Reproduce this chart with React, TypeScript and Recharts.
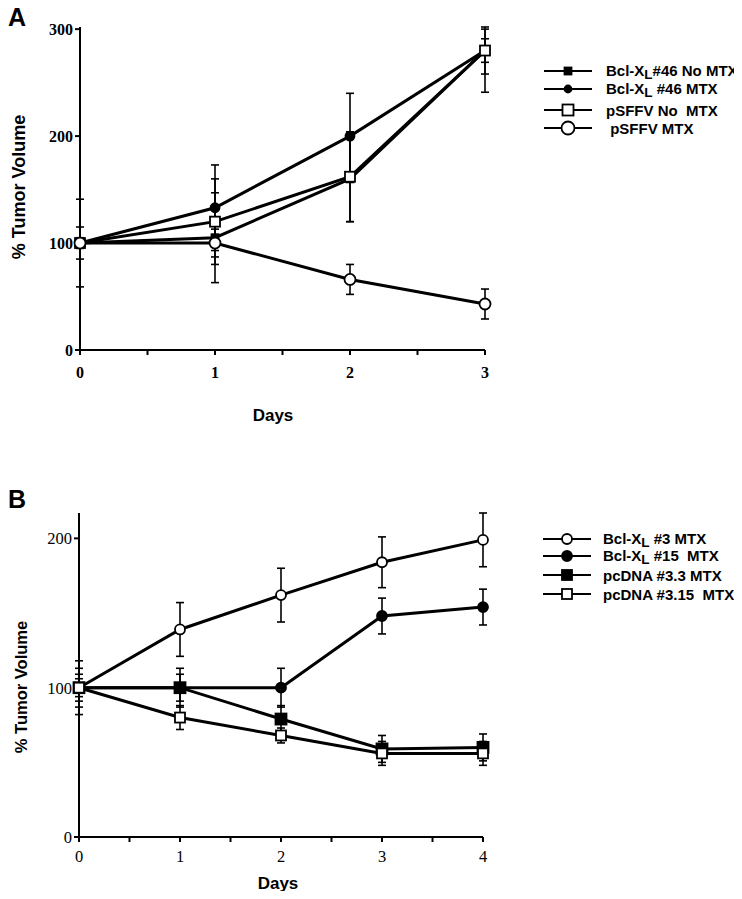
import React from "react"
import { LineChart, Line, XAxis, YAxis, ErrorBar } from "recharts"

// ---- panel A: Bcl-XL #46 vs pSFFV ----
const daysA = [0, 1, 2, 3]
const dayTicksA = [0, 0.5, 1, 1.5, 2, 2.5, 3]
const volumeTicksA = [0, 100, 200, 300]
const bcl46NoMtx = [100, 105, 160, 280]
const bcl46NoMtxErr = [41, 42, 40, 22]
const bcl46Mtx = [100, 133, 200, 280]
const bcl46MtxErr = [15, 40, 40, 11]
const sffvNoMtx = [100, 120, 162, 280]
const sffvNoMtxErr: (number | number[])[] = [5, 40, 42, [39, 20]]
const sffvMtx = [100, 100, 66, 43]
const sffvMtxErr = [3, 13, 14, 14]

// ---- panel B: Bcl-XL #3 / #15 vs pcDNA ----
const daysB = [0, 1, 2, 3, 4]
const dayTicksB = [0, 0.5, 1, 1.5, 2, 2.5, 3, 3.5, 4]
const volumeTicksB = [0, 100, 200]
const bcl3Mtx = [100, 139, 162, 184, 199]
const bcl3MtxErr = [18, 18, 18, 17, 18]
const bcl15Mtx = [100, 100, 100, 148, 154]
const bcl15MtxErr = [13, 13, 13, 12, 12]
const pc33Mtx = [100, 100, 79, 59, 60]
const pc33MtxErr = [9, 9, 9, 9, 9]
const pc315Mtx = [100, 80, 68, 56, 56]
const pc315MtxErr = [6, 8, 5, 8, 8]

type Shape = "square" | "circle"

interface Series {
  key: string
  values: number[]
  errors: (number | number[])[]
  shape: Shape
  filled: boolean
  size: number
  legendSize: number
  label: React.ReactNode
}

const sub = (
  <span style={{ fontSize: "0.9em", position: "relative", top: "0.2em" }}>L</span>
)

const seriesA: Series[] = [
  { key: "bcl46NoMtx", values: bcl46NoMtx, errors: bcl46NoMtxErr, shape: "square", filled: true, size: 7, legendSize: 7, label: <>Bcl-X{sub}#46 No MTX</> },
  { key: "bcl46Mtx", values: bcl46Mtx, errors: bcl46MtxErr, shape: "circle", filled: true, size: 9, legendSize: 7, label: <>Bcl-X{sub} #46 MTX</> },
  { key: "sffvNoMtx", values: sffvNoMtx, errors: sffvNoMtxErr, shape: "square", filled: false, size: 10, legendSize: 11, label: <>pSFFV No  MTX</> },
  { key: "sffvMtx", values: sffvMtx, errors: sffvMtxErr, shape: "circle", filled: false, size: 11, legendSize: 13, label: <> pSFFV MTX</> },
]

const seriesB: Series[] = [
  { key: "bcl3Mtx", values: bcl3Mtx, errors: bcl3MtxErr, shape: "circle", filled: false, size: 10, legendSize: 10, label: <>Bcl-X{sub} #3 MTX</> },
  { key: "bcl15Mtx", values: bcl15Mtx, errors: bcl15MtxErr, shape: "circle", filled: true, size: 10, legendSize: 10, label: <>Bcl-X{sub} #15  MTX</> },
  { key: "pc33Mtx", values: pc33Mtx, errors: pc33MtxErr, shape: "square", filled: true, size: 11, legendSize: 10, label: <>pcDNA #3.3 MTX</> },
  { key: "pc315Mtx", values: pc315Mtx, errors: pc315MtxErr, shape: "square", filled: false, size: 10, legendSize: 10, label: <>pcDNA #3.15  MTX</> },
]

function buildRows(days: number[], series: Series[]) {
  return days.map((day, i) => {
    const row: Record<string, number | number[]> = { day }
    series.forEach((s) => {
      row[s.key] = s.values[i]
      row[s.key + "Err"] = s.errors[i]
    })
    return row
  })
}

function Marker({ cx, cy, shape, filled, size }: { cx: number; cy: number; shape: Shape; filled: boolean; size: number }) {
  const fill = filled ? "#000" : "#fff"
  if (shape === "square") {
    return <rect x={cx - size / 2} y={cy - size / 2} width={size} height={size} fill={fill} stroke="#000" strokeWidth={1.8} />
  }
  return <circle cx={cx} cy={cy} r={size / 2} fill={fill} stroke="#000" strokeWidth={1.8} />
}

const makeDot = (s: Series) => (props: any) => {
  const { cx, cy, index } = props
  if (cx == null || cy == null) return <g key={index} />
  return (
    <g key={index}>
      <Marker cx={cx} cy={cy} shape={s.shape} filled={s.filled} size={s.size} />
    </g>
  )
}

const dayLabel = (v: number) => (Number.isInteger(v) ? String(v) : "")

interface PanelProps {
  series: Series[]
  days: number[]
  dayTicks: number[]
  volumeTicks: number[]
  height: number
  margin: { top: number; right: number; left: number; bottom: number }
  tickFont: React.CSSProperties
  dayTickMargin: number
}

function Panel({ series, days, dayTicks, volumeTicks, height, margin, tickFont, dayTickMargin }: PanelProps) {
  const rows = buildRows(days, series)
  const last = days[days.length - 1]
  const top = volumeTicks[volumeTicks.length - 1]
  return (
    <LineChart width={734} height={height} data={rows} margin={margin}>
      <XAxis
        dataKey="day"
        type="number"
        domain={[0, last]}
        ticks={dayTicks}
        tickFormatter={dayLabel}
        interval={0}
        height={40}
        tickSize={5}
        tickMargin={dayTickMargin}
        axisLine={{ stroke: "#000", strokeWidth: 2 }}
        tickLine={{ stroke: "#000", strokeWidth: 2 }}
        tick={{ fill: "#000", ...tickFont } as any}
      />
      <YAxis
        type="number"
        domain={[0, top]}
        ticks={volumeTicks}
        interval={0}
        width={40}
        tickSize={5}
        tickMargin={2}
        axisLine={{ stroke: "#000", strokeWidth: 2 }}
        tickLine={{ stroke: "#000", strokeWidth: 2 }}
        tick={{ fill: "#000", ...tickFont } as any}
      />
      {series.map((s) => (
        <Line
          key={s.key}
          dataKey={s.key}
          type="linear"
          stroke="#000"
          strokeWidth={3}
          dot={makeDot(s)}
          activeDot={false}
          isAnimationActive={false}
        >
          <ErrorBar dataKey={s.key + "Err"} direction="y" width={4} stroke="#000" strokeWidth={1.6} isAnimationActive={false} />
        </Line>
      ))}
    </LineChart>
  )
}

// page pixels -> positions inside the wrapper (body margin is 8)
const P = (v: number) => v - 8

// texts are placed by their centre
function Txt({ x, y, size, rotate, children }: { x: number; y: number; size: number; rotate?: boolean; children: React.ReactNode }) {
  return (
    <div
      style={{
        position: "absolute",
        left: P(x),
        top: P(y),
        transform: `translate(-50%, -50%)${rotate ? " rotate(-90deg)" : ""}`,
        fontFamily: "Liberation Sans, Arial, sans-serif",
        fontWeight: "bold",
        fontSize: size,
        lineHeight: 1,
        whiteSpace: "pre",
        color: "#000",
      }}
    >
      {children}
    </div>
  )
}

function Legend({ series, x, textX, rows }: { series: Series[]; x: number; textX: number; rows: number[] }) {
  return (
    <>
      {series.map((s, i) => (
        <React.Fragment key={s.key}>
          <svg style={{ position: "absolute", left: P(x), top: P(rows[i]) - 8 }} width={48} height={16}>
            <line x1={0} y1={8} x2={48} y2={8} stroke="#000" strokeWidth={1.8} />
            <Marker cx={24} cy={8} shape={s.shape} filled={s.filled} size={s.legendSize} />
          </svg>
          <div
            style={{
              position: "absolute",
              left: P(textX),
              top: P(rows[i]),
              transform: "translateY(-50%)",
              fontFamily: "Liberation Sans, Arial, sans-serif",
              fontWeight: "bold",
              fontSize: 15,
              lineHeight: 1,
              whiteSpace: "pre",
              color: "#000",
            }}
          >
            {s.label}
          </div>
        </React.Fragment>
      ))}
    </>
  )
}

export default function App() {
  return (
    <div style={{ position: "relative", width: 734, height: 883, background: "#fff" }}>
      <div style={{ position: "absolute", left: 0, top: 0 }}>
        <Panel
          series={seriesA}
          days={daysA}
          dayTicks={dayTicksA}
          volumeTicks={volumeTicksA}
          height={440}
          margin={{ top: 19, right: 257, left: 32, bottom: 58 }}
          tickFont={{ fontFamily: "Liberation Serif, serif", fontWeight: "bold", fontSize: 16 }}
          dayTickMargin={12}
        />
      </div>
      <div style={{ position: "absolute", left: 0, top: 440 }}>
        <Panel
          series={seriesB}
          days={daysB}
          dayTicks={dayTicksB}
          volumeTicks={volumeTicksB}
          height={440}
          margin={{ top: 65, right: 259, left: 31, bottom: 11 }}
          tickFont={{ fontFamily: "Liberation Serif, serif", fontSize: 16.5 }}
          dayTickMargin={8}
        />
      </div>

      <Txt x={17} y={17} size={25}>A</Txt>
      <Txt x={17} y={499} size={25}>B</Txt>
      <Txt x={19} y={187} size={18} rotate>% Tumor Volume</Txt>
      <Txt x={21} y={687} size={16.5} rotate>% Tumor Volume</Txt>
      <Txt x={273} y={415} size={17}>Days</Txt>
      <Txt x={278} y={883} size={17}>Days</Txt>

      {/* legends: the long first label runs off the right edge, as in the figure */}
      <div style={{ position: "absolute", left: 0, top: 0, width: 734, height: 700, overflow: "hidden" }}>
        <Legend series={seriesA} x={544} textX={606} rows={[71, 89, 110, 128]} />
        <Legend series={seriesB} x={543} textX={603} rows={[539, 556, 575, 594]} />
      </div>
    </div>
  )
}
